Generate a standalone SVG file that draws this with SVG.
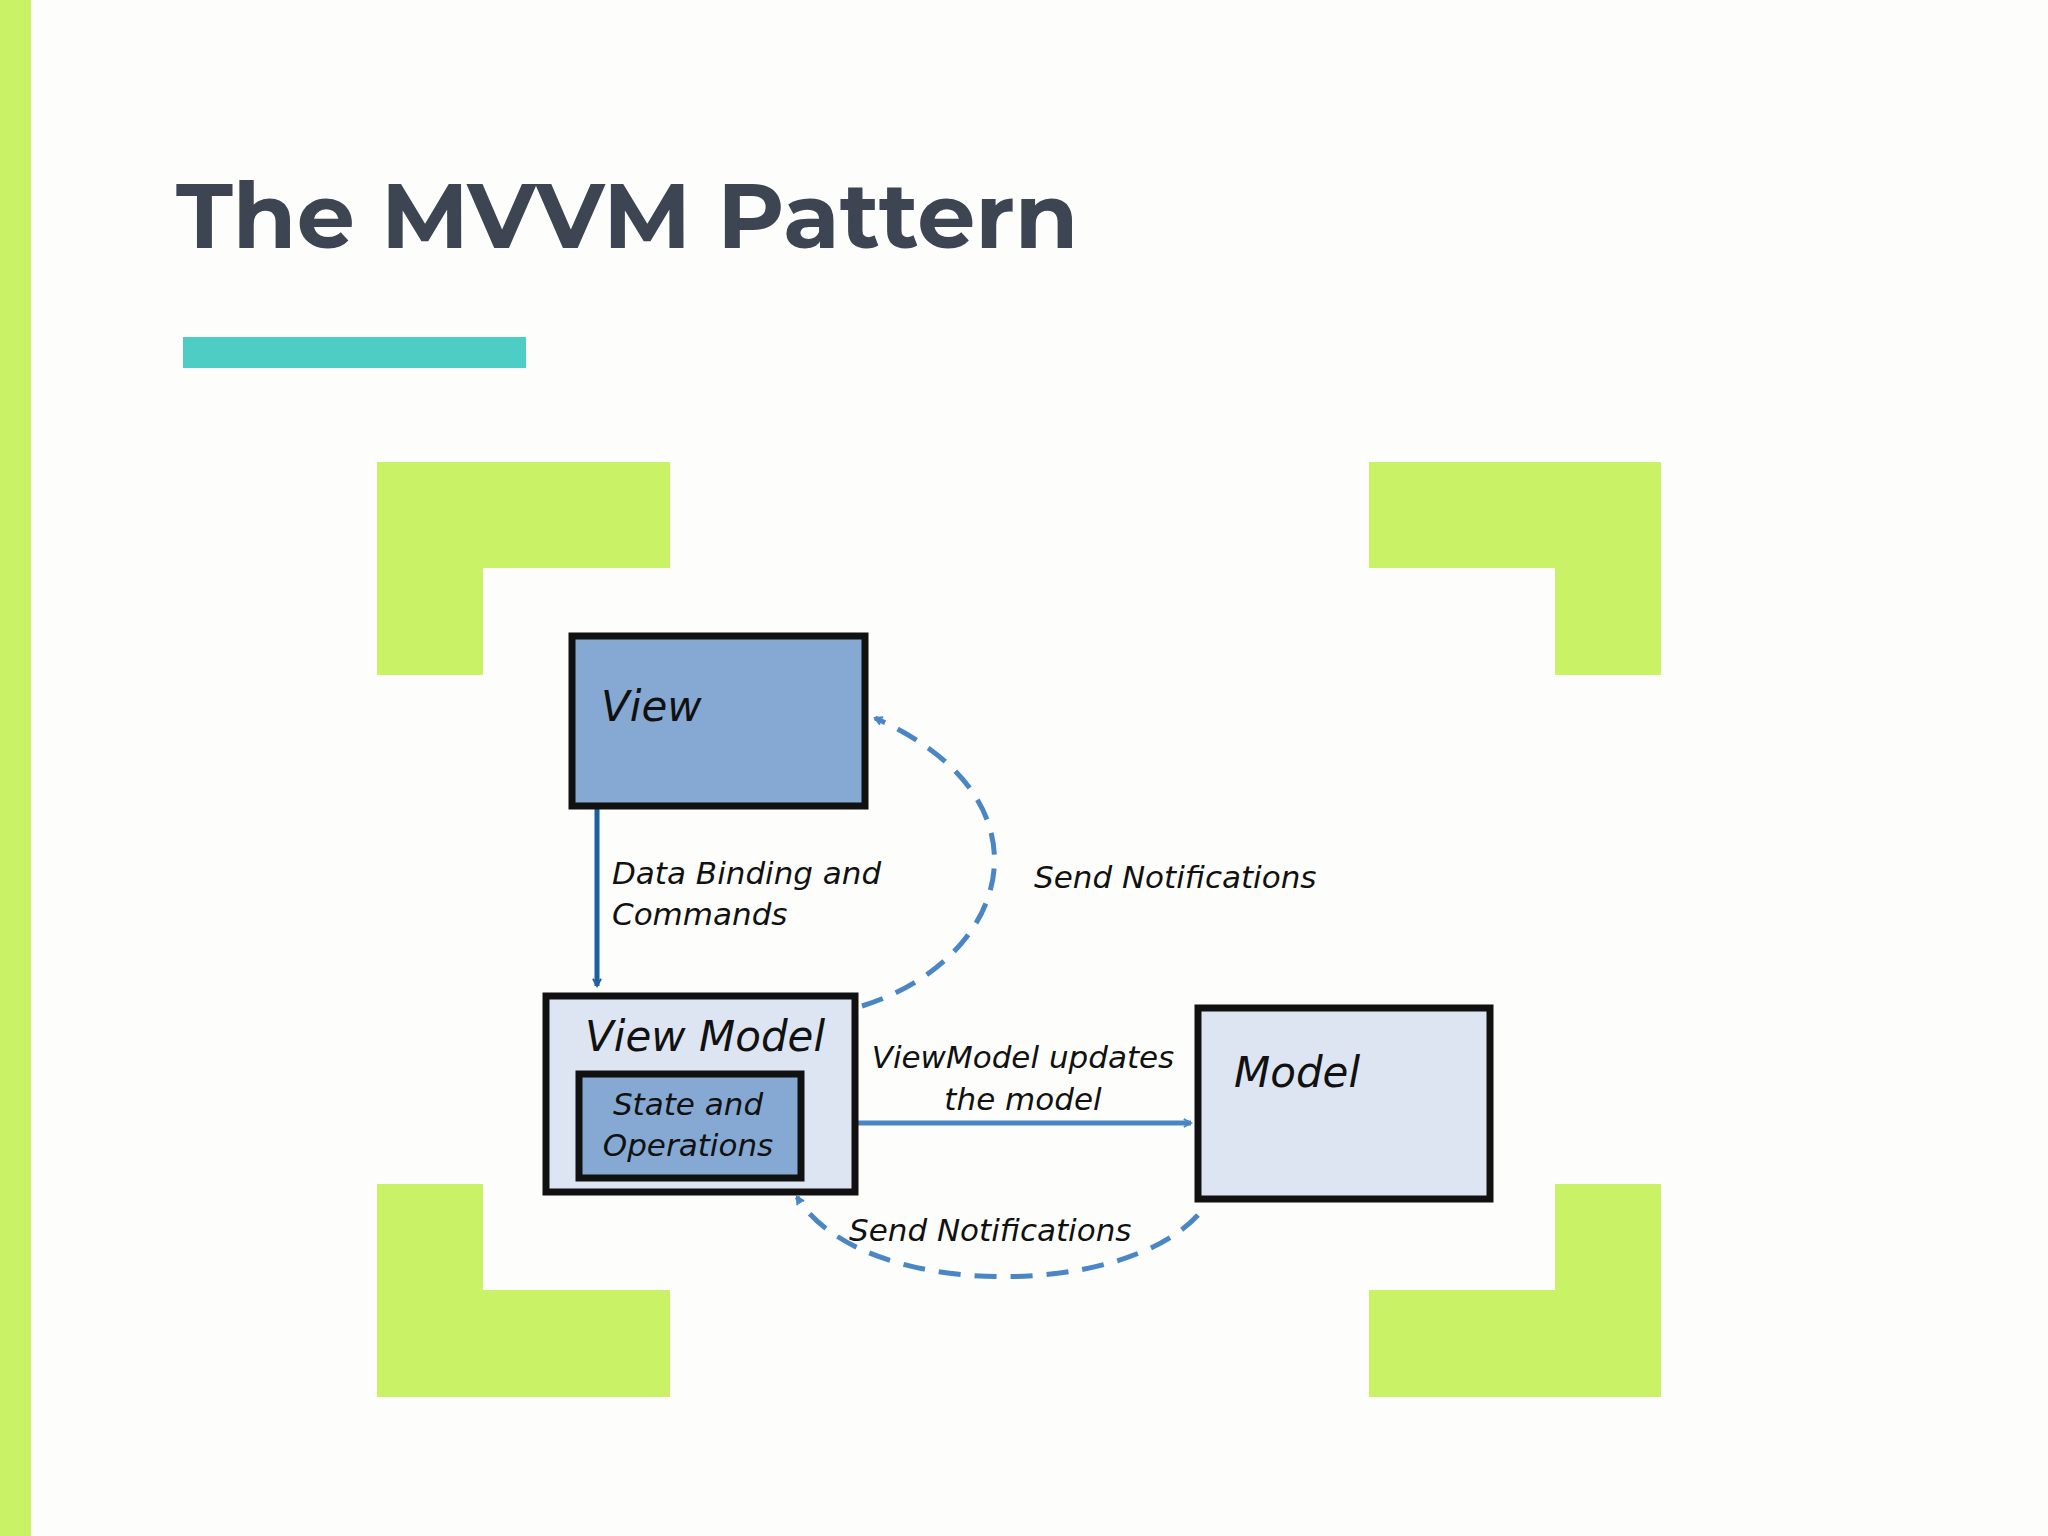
<svg xmlns="http://www.w3.org/2000/svg" width="2048" height="1536" viewBox="0 0 2048 1536">
<style>
.g{fill:#c9f266}
.box{stroke:#111;stroke-width:7}
.lbl{font-family:"DejaVu Sans",sans-serif;font-size:31px;fill:#111;font-style:italic}
.nm{font-family:"DejaVu Sans",sans-serif;font-size:42px;fill:#111;font-style:italic}
.dash{fill:none;stroke:#4a86c5;stroke-width:5;stroke-dasharray:22 14}
</style>
<defs>
<marker id="a1" viewBox="0 0 20 20" refX="18" refY="10" markerWidth="8" markerHeight="8" orient="auto" markerUnits="userSpaceOnUse" style="overflow:visible"><path d="M0,0 L18,10 L0,20" fill="none" stroke="#1f5f9e" stroke-width="5"/></marker>
<marker id="a2" viewBox="0 0 20 20" refX="18" refY="10" markerWidth="8" markerHeight="8" orient="auto" markerUnits="userSpaceOnUse" style="overflow:visible"><path d="M0,0 L18,10 L0,20" fill="none" stroke="#4a86c5" stroke-width="5"/></marker>
</defs>
<rect width="2048" height="1536" fill="#fdfefb"/>
<rect x="0" y="0" width="31" height="1536" class="g"/>
<text x="176" y="248" font-family="Montserrat,'Open Sans',sans-serif" font-weight="bold" font-size="92" fill="#3d4553">The MVVM Pattern</text>
<rect x="183" y="337" width="343" height="31" fill="#4ecdc4"/>
<polygon class="g" points="377,462 670,462 670,568 483,568 483,675 377,675"/>
<polygon class="g" points="1369,462 1661,462 1661,675 1555,675 1555,568 1369,568"/>
<polygon class="g" points="377,1184 483,1184 483,1290 670,1290 670,1397 377,1397"/>
<polygon class="g" points="1555,1184 1661,1184 1661,1397 1369,1397 1369,1290 1555,1290"/>
<g id="connectors">
<line x1="597" y1="806" x2="597" y2="986" stroke="#1f5f9e" stroke-width="5" marker-end="url(#a1)"/>
<path class="dash" d="M862,1006 C1010,960 1060,800 875,718" marker-end="url(#a2)"/>
<line x1="851" y1="1123" x2="1191" y2="1123" stroke="#4a86c5" stroke-width="5" marker-end="url(#a2)"/>
<path class="dash" d="M1198,1215 C1120,1300 860,1300 797,1197" marker-end="url(#a2)"/>
<text class="lbl" x="612" y="884">Data Binding and</text>
<text class="lbl" x="612" y="925">Commands</text>
<text class="lbl" x="1034" y="888">Send Notifications</text>
<text class="lbl" x="1023" y="1068" text-anchor="middle">ViewModel updates</text>
<text class="lbl" x="1023" y="1110" text-anchor="middle">the model</text>
<text class="lbl" x="849" y="1241">Send Notifications</text>
</g>
<g id="view">
<rect class="box" x="572" y="636" width="293" height="170" fill="#85a9d2"/>
<text class="nm" x="601" y="721">View</text>
</g>
<g id="viewmodel">
<rect class="box" x="546" y="996" width="309" height="196" fill="#dde5f2"/>
<text class="nm" x="585" y="1051">View Model</text>
<rect class="box" x="579" y="1074" width="222" height="104" fill="#85a9d2"/>
<text class="lbl" x="688" y="1115" text-anchor="middle" font-size="34">State and</text>
<text class="lbl" x="688" y="1156" text-anchor="middle" font-size="34">Operations</text>
</g>
<g id="model">
<rect class="box" x="1198" y="1008" width="292" height="191" fill="#dde5f2"/>
<text class="nm" x="1234" y="1087">Model</text>
</g>
</svg>
